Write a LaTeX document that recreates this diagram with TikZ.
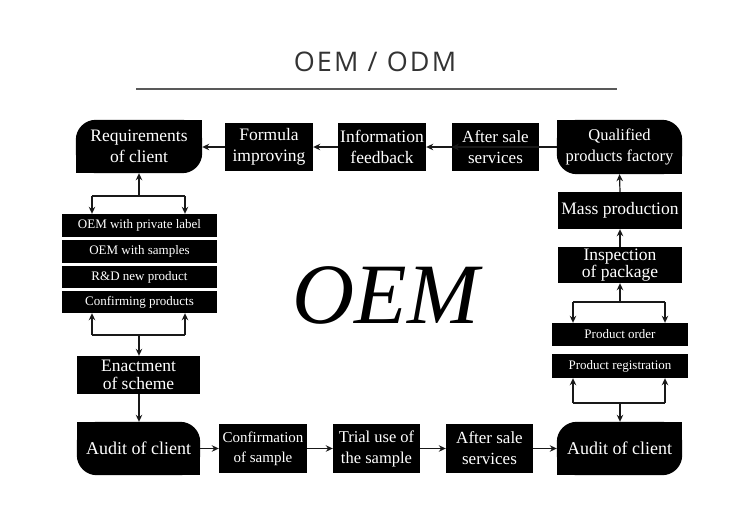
\documentclass[tikz,border=0pt]{standalone}
\usepackage{fontspec}
\setmainfont{Liberation Serif}
\newfontfamily\titlefont[LetterSpace=8]{Open Sans}
\usetikzlibrary{arrows.meta,backgrounds,calc}
\begin{document}
\begin{tikzpicture}[x=1pt,y=-1pt,
  blk/.style={fill=black,text=white,inner sep=0pt,align=center,font=\fontsize{17.5}{20.5}\selectfont},
  rnd/.style={text=white,inner sep=0pt,align=center,font=\fontsize{17.5}{20.5}\selectfont},
  lst/.style={fill=black,text=white,inner sep=0pt,minimum width=155pt,font=\fontsize{13}{15}\selectfont},
  arr/.style={draw=black!90,line width=1.2pt,-{Stealth[length=7pt,width=6.5pt]}},
  ln/.style={draw=black!90,line width=1.2pt}]
\useasboundingbox (0,0) rectangle (750,507);
% title
\node[font=\titlefont\fontsize{27}{30}\selectfont,text=black!80] (title) at (375,62) {OEM / ODM};
\draw[draw=black!65,line width=1.1pt] (136,89) -- (617,89);
\node[anchor=base,font=\fontsize{86}{90}\selectfont\itshape] (big) at (385.5,323) {OEM};
% top row
\node[rnd,minimum width=126pt,minimum height=53pt] (req) at (139,146.5) {Requirements\\of client};
\node[blk,minimum width=88pt,minimum height=48pt] (form) at (269,147) {Formula\\improving};
\node[blk,minimum width=88pt,minimum height=48pt] (info) at (382,147) {Information\\feedback};
\node[blk,minimum width=87pt,minimum height=48pt,font=\fontsize{17}{20.5}\selectfont] (ast) at (495.5,147) {After sale\\services};
\node[rnd,minimum width=125pt,minimum height=54pt,font=\fontsize{16.5}{20.5}\selectfont] (qual) at (619.5,147) {Qualified\\products factory};
% right column
\node[blk,minimum width=124pt,minimum height=37pt] (mass) at (620,210.5) {Mass production};
\node[blk,minimum width=124pt,minimum height=36pt,font=\fontsize{17.5}{17}\selectfont] (insp) at (620,265) {Inspection\\of package};
\node[lst,minimum width=136pt,minimum height=23pt] (order) at (620,334.5) {Product order};
\node[lst,minimum width=136pt,minimum height=24pt] (reg) at (620,366) {Product registration};
\node[rnd,minimum width=125pt,minimum height=53pt,font=\fontsize{18}{21}\selectfont] (audr) at (619.5,448.5) {Audit of client};
% bottom row
\node[blk,minimum width=87pt,minimum height=49pt,font=\fontsize{17}{21}\selectfont] (asb) at (489.5,448.5) {After sale\\services};
\node[blk,minimum width=87pt,minimum height=49pt,font=\fontsize{16.5}{21}\selectfont] (trial) at (376.5,448.5) {Trial use of\\the sample};
\node[blk,minimum width=88pt,minimum height=49pt,font=\fontsize{15}{20}\selectfont] (conf) at (263,448.5) {Confirmation\\of sample};
\node[rnd,minimum width=123pt,minimum height=53pt,font=\fontsize{18}{21}\selectfont] (audl) at (138.5,448.5) {Audit of client};
% left column
\node[blk,minimum width=123pt,minimum height=38pt,font=\fontsize{17.5}{18}\selectfont] (ench) at (138.5,375) {Enactment\\of scheme};
\node[lst,minimum height=23pt] (l1) at (139.5,225.5) {OEM with private label};
\node[lst,minimum height=23pt] (l2) at (139.5,251.5) {OEM with samples};
\node[lst,minimum height=22pt] (l3) at (139.5,277) {R\&D new product};
\node[lst,minimum height=22pt] (l4) at (139.5,302) {Confirming products};
% rounded shapes
\begin{scope}[on background layer]
\foreach \n in {req,qual,audl,audr}
  \fill[rounded corners=20pt] (\n.north west) rectangle (\n.south east);
\fill (req.north east) rectangle ++(-20,20);
\fill (req.south west) rectangle ++(20,-20);
\fill (audr.north east) rectangle ++(-20,20);
\fill (audr.south west) rectangle ++(20,-20);
\fill (qual.north west) rectangle ++(20,20);
\fill (qual.south east) rectangle ++(-20,-20);
\fill (audl.north west) rectangle ++(20,20);
\fill (audl.south east) rectangle ++(-20,-20);
\end{scope}
% top row arrows
\draw[arr] (form.west) -- (req.east |- form.west);
\draw[arr] (info.west) -- (form.east);
\draw[arr] (ast.west) -- (info.east);
\draw[arr] (qual.west |- ast.west) -- (ast.west);
% right column arrows
\draw[arr] (mass.north) -- (qual.south);
\draw[arr] (insp.north) -- (mass.south);
\coordinate (rj) at (620,302);
\coordinate (ra) at (573,302);
\coordinate (rb) at (665,302);
\draw[arr] (rj) -- (insp.south);
\draw[ln] (ra) -- (rb);
\draw[arr] (ra) -- (ra |- order.north);
\draw[arr] (rb) -- (rb |- order.north);
\coordinate (rk) at (620,403);
\coordinate (rc) at (573,403);
\coordinate (rd) at (665,403);
\draw[ln] (rc) -- (rd);
\draw[arr] (rc) -- (rc |- reg.south);
\draw[arr] (rd) -- (rd |- reg.south);
\draw[arr] (rk) -- (rk |- audr.north);
% left column arrows
\coordinate (lj) at (139,196);
\coordinate (la) at (92,196);
\coordinate (lb) at (185,196);
\draw[arr] (lj) -- (lj |- req.south);
\draw[ln] (la) -- (lb);
\draw[arr] (la) -- (la |- l1.north);
\draw[arr] (lb) -- (lb |- l1.north);
\coordinate (lk) at (139,335);
\coordinate (lc) at (92,335);
\coordinate (ld) at (185,335);
\draw[ln] (lc) -- (ld);
\draw[arr] (lc) -- (lc |- l4.south);
\draw[arr] (ld) -- (ld |- l4.south);
\draw[arr] (lk) -- (lk |- ench.north);
\draw[arr] (ench.south -| lk) -- (lk |- audl.north);
% bottom row arrows
\draw[arr] (audl.east |- conf.west) -- (conf.west);
\draw[arr] (conf.east) -- (trial.west);
\draw[arr] (trial.east) -- (asb.west);
\draw[arr] (asb.east) -- (audr.west |- asb.east);
\end{tikzpicture}
\end{document}
